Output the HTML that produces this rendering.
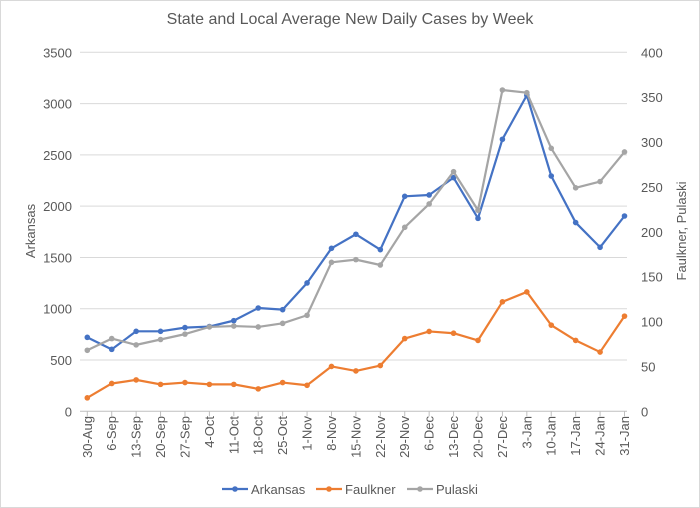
<!DOCTYPE html>
<html><head><meta charset="utf-8"><style>
body{margin:0;background:#fff;}
svg{display:block;font-family:"Liberation Sans",sans-serif;}
</style></head><body>
<svg id="c" width="700" height="508">
<rect x="0.5" y="0.5" width="699" height="507" fill="#fff" stroke="#d9d9d9"/>
<text x="350" y="24" text-anchor="middle" font-size="16" fill="#595959">State and Local Average New Daily Cases by Week</text>
<text transform="translate(35,231) rotate(-90)" text-anchor="middle" font-size="13" fill="#595959">Arkansas</text>
<text transform="translate(686,231) rotate(-90)" text-anchor="middle" font-size="13" fill="#595959">Faulkner, Pulaski</text>
<g id="grid"></g><g id="axes"></g><g id="series"></g>
<g>
<g><line x1="222" y1="489" x2="248" y2="489" stroke="#4472c4" stroke-width="2.2"/><circle cx="235" cy="489" r="2.8" fill="#4472c4"/><text x="251" y="494" font-size="13" fill="#595959">Arkansas</text></g>
<g><line x1="316" y1="489" x2="342" y2="489" stroke="#ed7d31" stroke-width="2.2"/><circle cx="329" cy="489" r="2.8" fill="#ed7d31"/><text x="345" y="494" font-size="13" fill="#595959">Faulkner</text></g>
<g><line x1="407" y1="489" x2="433" y2="489" stroke="#a5a5a5" stroke-width="2.2"/><circle cx="420" cy="489" r="2.8" fill="#a5a5a5"/><text x="436" y="494" font-size="13" fill="#595959">Pulaski</text></g>
</g>
</svg>
<script>
const categories=["30-Aug","6-Sep","13-Sep","20-Sep","27-Sep","4-Oct","11-Oct","18-Oct","25-Oct","1-Nov","8-Nov","15-Nov","22-Nov","29-Nov","6-Dec","13-Dec","20-Dec","27-Dec","3-Jan","10-Jan","17-Jan","24-Jan","31-Jan"];
const arkansas=[721,604,780,780,816,826,884,1007,991,1251,1589,1726,1576,2096,2109,2278,1881,2652,3081,2294,1840,1599,1904];
const faulkner=[15,31,35,30,32,30,30,25,32,29,50,45,51,81,89,87,79,122,133,96,79,66,106];
const pulaski=[68,81,74,80,86,94,95,94,98,107,166,169,163,205,231,267,224,358,355,293,249,256,289];
const leftTicks=[0,500,1000,1500,2000,2500,3000,3500];
const rightTicks=[0,50,100,150,200,250,300,350,400];
const NS="http://www.w3.org/2000/svg";
const X0=87.3,X1=624.5,Y0=411.3,Y1=52.3,PL=80,PR=627;
const xs=i=>X0+i*(X1-X0)/(categories.length-1);
const yl=v=>Y0-v/3500*(Y0-Y1);
const yr=v=>Y0-v/400*(Y0-Y1);
function mk(t,a,p){const e=document.createElementNS(NS,t);for(const k in a)e.setAttribute(k,a[k]);p.appendChild(e);return e;}
const grid=document.getElementById('grid'),axes=document.getElementById('axes'),ser=document.getElementById('series');
leftTicks.forEach((v,i)=>{
 const l=mk('line',{x1:PL,x2:PR,y1:yl(v),y2:yl(v),stroke:i==0?'#bfbfbf':'#d9d9d9','stroke-width':1},grid);
 
 
 const t=mk('text',{x:72,y:yl(v)+5,'text-anchor':'end','font-size':13,fill:'#595959'},axes);
 t.textContent=v;
 
 
});
rightTicks.forEach(v=>{
 const t=mk('text',{x:641,y:yr(v)+5,'font-size':13,fill:'#595959'},axes);
 t.textContent=v;
 
 
});
categories.forEach((c,i)=>{
 const tk=mk('line',{x1:xs(i),x2:xs(i),y1:Y0,y2:Y0+5,stroke:'#bfbfbf'},axes);
 
 
 const t=mk('text',{transform:`translate(${xs(i)+4.5},416) rotate(-90)`,'text-anchor':'end','font-size':13,fill:'#595959'},axes);
 t.textContent=c;
 
 
});
function series(data,yf,color,name){
 const g=mk('g',{},ser);
 
 
 const p=mk('polyline',{points:data.map((v,i)=>xs(i)+','+yf(v)).join(' '),fill:'none',stroke:color,'stroke-width':2.2,'stroke-linejoin':'round'},g);
 
 
 data.forEach((v,i)=>{
  const c=mk('circle',{cx:xs(i),cy:yf(v),r:2.8,fill:color},g);
  
  
 });
}
series(arkansas,yl,'#4472c4','arkansas');
series(faulkner,yr,'#ed7d31','faulkner');
series(pulaski,yr,'#a5a5a5','pulaski');
</script>
</body></html>
